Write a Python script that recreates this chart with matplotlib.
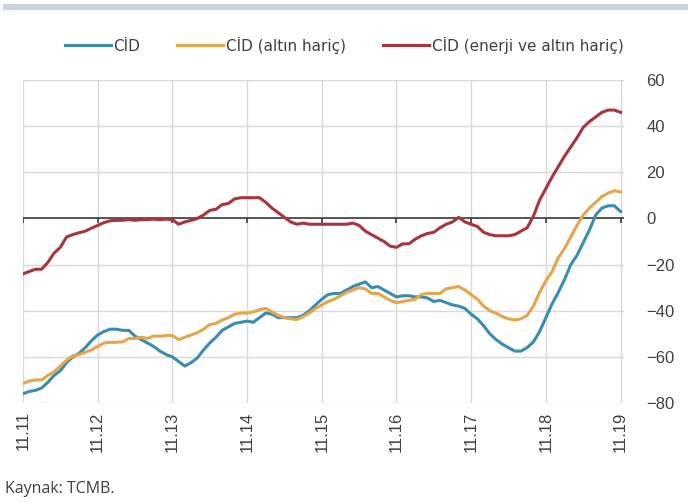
import matplotlib
matplotlib.use('Agg')
import matplotlib.pyplot as plt
import matplotlib.patches as mpatches
import numpy as np

# Monthly series, 2011-11 .. 2019-11 (annual change, %)
cid = [
    -76, -75, -74.5, -73.5, -71, -68, -66, -62.5, -60, -58.5, -56, -53,
    -50.5, -49, -48, -48, -48.5, -48.5, -51, -52.5, -54, -55.5, -57.5, -59,
    -60, -62, -64, -62.5, -60.5, -57, -54, -51.5, -48.5, -47, -45.5, -45,
    -44.5, -45, -43, -41, -41.5, -43, -43, -43, -43, -42, -40, -37.5,
    -35, -33, -32.5, -32.5, -31, -29.5, -28.5, -27.5, -30, -29.5, -31, -32.5,
    -34, -33.5, -33.5, -34, -34, -34.5, -36, -35.5, -36.5, -37.5, -38, -39,
    -41.5, -43.5, -46.5, -50, -52.5, -54.5, -56, -57.5, -57.5, -56, -53.5, -49,
    -43, -37, -32, -26.5, -20, -16, -10.5, -5, 1.5, 4.5, 5.5, 5.5,
    3,
]
cid_ex_gold = [
    -71.5, -70.5, -70, -70, -68, -66.5, -64, -61.5, -59.5, -59, -58, -57,
    -55.5, -54, -53.7, -53.7, -53.5, -52, -52, -51.5, -52, -51, -51, -50.8,
    -50.7, -52.5, -51.5, -50.5, -49.5, -48, -46, -45.5, -44, -43, -41.5, -41,
    -41, -40.5, -39.5, -39, -40.5, -42, -43, -43.5, -43.8, -42.5, -41, -39,
    -37.5, -36, -35, -33.5, -32, -31, -30, -30.5, -32.5, -32.5, -34, -35.5,
    -36.5, -36, -35.5, -35, -33, -32.5, -32.5, -32.5, -30.5, -30, -29.5, -31,
    -33, -35, -38, -40, -41, -42.5, -43.5, -44, -43.5, -42, -38, -32,
    -27, -23, -17, -13, -8, -3, 1.5, 4.5, 7, 9.5, 11, 12,
    11.5,
]
cid_ex_energy_gold = [
    -24, -23, -22, -22, -19, -15, -12.5, -8, -7, -6.2, -5.5, -4.2,
    -3, -1.8, -1, -0.8, -0.8, -0.5, -0.8, -0.5, -0.5, -0.3, -0.5, -0.3,
    -0.5, -2.5, -1.5, -0.8, 0, 1.5, 3.5, 4, 6, 6.5, 8.5, 9,
    9, 9, 9, 7, 4.5, 2.5, 0.5, -1.5, -2.5, -2, -2.5, -2.5,
    -2.5, -2.5, -2.5, -2.5, -2.5, -2, -3, -5.5, -7, -8.5, -10, -12,
    -12.5, -11, -11, -9, -7.5, -6.5, -6, -4, -2.5, -1.5, 0.5, -1.5,
    -2.5, -3.5, -6, -7, -7.5, -7.5, -7.5, -7, -5.5, -4, 1, 8,
    13, 18, 22.5, 27, 31, 35, 39.5, 42, 44, 46, 47, 47,
    46,
]
year_labels = ['11.11', '11.12', '11.13', '11.14', '11.15',
               '11.16', '11.17', '11.18', '11.19']
series_names = ['CİD', 'CİD (altın hariç)', 'CİD (enerji ve altın hariç)']

BLUE = '#3a8db0'
GOLD = '#e3a64a'
RED = '#a8343f'
GRID = '#d9d9d9'
TXT = '#404040'

months = np.arange(len(cid))
year_pos = np.arange(0, len(cid), 12)

fig = plt.figure(figsize=(6.88, 5.03), dpi=100)
ax = fig.add_axes([0.0334, 0.1988, 0.874, 0.642])

# thin band across the top of the page
fig.patches.append(mpatches.Rectangle((0.005, 0.980), 0.995, 0.012, transform=fig.transFigure,
                                      facecolor='#cfd3dd', edgecolor='none'))

ax.set_xlim(0, 96.6)
ax.set_ylim(-80, 60)
for s in ax.spines.values():
    s.set_visible(False)

ax.set_yticks(np.arange(-80, 61, 20))
ax.set_xticks(year_pos)
ax.set_xticklabels(year_labels, rotation=90, fontsize=12, color=TXT,
                   family='Liberation Sans')
ax.yaxis.tick_right()
ax.tick_params(axis='y', length=0, pad=16, labelsize=12, labelcolor=TXT)
ax.tick_params(axis='x', length=0, pad=6)
for t in ax.get_yticklabels():
    t.set_family('Liberation Sans')
ax.grid(True, color=GRID, lw=1.0, zorder=0)

# zero line with year ticks hanging below it
ax.axhline(0, color='#3c3c3c', lw=1.2, zorder=2)
ax.vlines(year_pos, -1.8, 0, color='#3c3c3c', lw=1.2, zorder=2)

ax.plot(months, cid, color=BLUE, lw=2.2, label=series_names[0], zorder=3)
ax.plot(months, cid_ex_gold, color=GOLD, lw=2.2, label=series_names[1], zorder=3)
ax.plot(months, cid_ex_energy_gold, color=RED, lw=2.2, label=series_names[2], zorder=4)

leg = fig.legend(loc='center', bbox_to_anchor=(0.5, 0.91), ncol=3, frameon=False,
                 handlelength=3.0, handletextpad=0.2, columnspacing=2.4,
                 prop={'family': 'DejaVu Sans', 'size': 11})
for t in leg.get_texts():
    t.set_color(TXT)

fig.text(0.007, 0.028, 'Kaynak: TCMB.', fontsize=11.5, color=TXT, family='Open Sans',
         va='center', ha='left')

fig.savefig('out.png', dpi=100)
